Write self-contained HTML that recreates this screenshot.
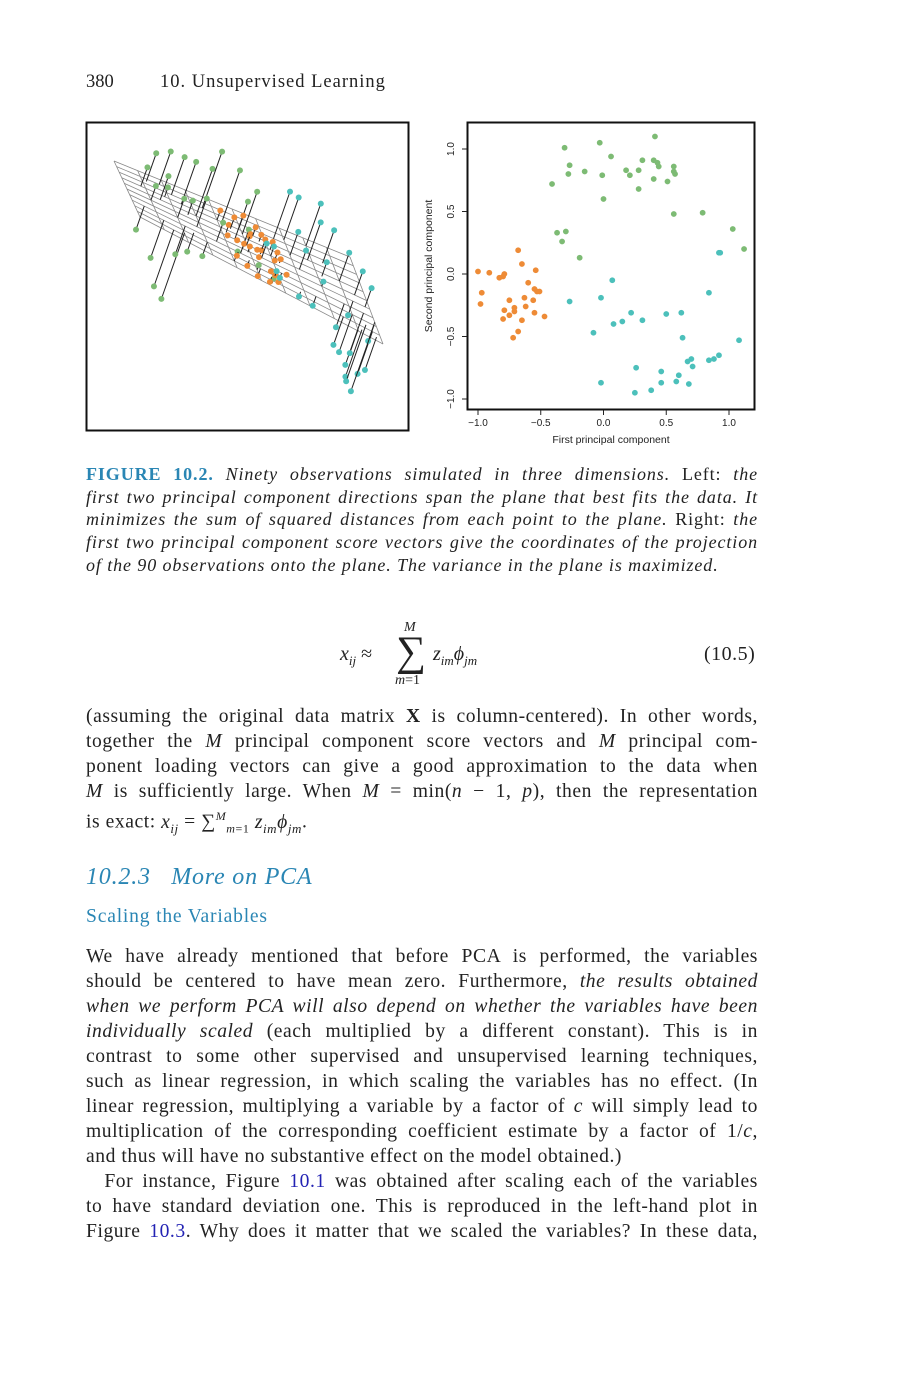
<!DOCTYPE html>
<html><head><meta charset="utf-8">
<style>
html,body{margin:0;padding:0;background:#fff;}
body{width:915px;height:1388px;position:relative;overflow:hidden;font-family:"Liberation Serif",serif;color:#222;}
.ln{position:absolute;left:86px;width:672px;font-size:19.6px;letter-spacing:0.55px;line-height:25px;white-space:nowrap;}
.j{text-align:justify;text-align-last:justify;}
.cap{position:absolute;left:86px;width:672px;font-size:18px;letter-spacing:0.9px;font-style:italic;line-height:22.7px;}
.cap div{white-space:nowrap;}
.up{font-style:normal;}
.blue{color:#2a86b4;}
.lk{color:#2323b4;}
</style></head><body>
<div style="position:absolute;left:86px;top:72px;font-size:18.5px;">380</div>
<div style="position:absolute;left:160px;top:72px;font-size:18.5px;letter-spacing:1px;">10. Unsupervised Learning</div>

<svg id="fig" width="915" height="460" style="position:absolute;left:0;top:0;" xmlns="http://www.w3.org/2000/svg">
<rect x="86.5" y="122.5" width="322" height="308" fill="none" stroke="#111" stroke-width="2"/>
<g id="left"></g>
<rect x="467.5" y="122.5" width="287" height="287" fill="none" stroke="#111" stroke-width="2"/>
<g id="right"></g>
<text x="611" y="443" font-family="Liberation Sans, sans-serif" font-size="10.5" text-anchor="middle" fill="#222">First principal component</text>
<text transform="translate(432,266) rotate(-90)" font-family="Liberation Sans, sans-serif" font-size="10.5" text-anchor="middle" fill="#222">Second principal component</text>
</svg>

<div class="cap" style="top:463px;">
<div class="j"><b class="up blue">FIGURE 10.2.</b> Ninety observations simulated in three dimensions. <span class="up">Left:</span> the</div>
<div class="j">first two principal component directions span the plane that best fits the data. It</div>
<div class="j">minimizes the sum of squared distances from each point to the plane. <span class="up">Right:</span> the</div>
<div class="j">first two principal component score vectors give the coordinates of the projection</div>
<div>of the 90 observations onto the plane. The variance in the plane is maximized.</div>
</div>

<div>
<div style="position:absolute;left:340px;top:643px;font-size:20px;font-style:italic;">x<sub style="font-size:13px">ij</sub> <span class="up">≈</span></div>
<div style="position:absolute;left:404px;top:620px;font-size:14px;font-style:italic;">M</div>
<div style="position:absolute;left:396px;top:627px;font-size:42px;line-height:50px;">∑</div>
<div style="position:absolute;left:395px;top:673px;font-size:14px;font-style:italic;">m<span class="up">=1</span></div>
<div style="position:absolute;left:433px;top:643px;font-size:20px;font-style:italic;">z<sub style="font-size:13px">im</sub>ϕ<sub style="font-size:13px">jm</sub></div>
<div style="position:absolute;left:704px;top:643px;font-size:20px;letter-spacing:0.5px;">(10.5)</div>
</div>

<div>
<div class="ln j" style="top:704px;">(assuming the original data matrix <b>X</b> is column-centered). In other words,</div>
<div class="ln j" style="top:729px;">together the <i>M</i> principal component score vectors and <i>M</i> principal com-</div>
<div class="ln j" style="top:754px;">ponent loading vectors can give a good approximation to the data when</div>
<div class="ln j" style="top:779px;"><i>M</i> is sufficiently large. When <i>M</i> = min(<i>n</i> − 1, <i>p</i>), then the representation</div>
<div class="ln" style="top:804px;">is exact: <i>x<sub style="font-size:13px">ij</sub></i> = ∑<sup style="font-size:12px"><i>M</i></sup><sub style="font-size:12px"><i>m</i>=1</sub> <i>z<sub style="font-size:13px">im</sub>ϕ<sub style="font-size:13px">jm</sub></i>.</div>
</div>

<div class="blue" style="position:absolute;left:86px;top:864px;font-size:24px;letter-spacing:0.8px;font-style:italic;">10.2.3&nbsp;&nbsp;&nbsp;More on PCA</div>
<div class="blue" style="position:absolute;left:86px;top:906px;font-size:19.6px;letter-spacing:0.8px;">Scaling the Variables</div>

<div>
<div class="ln j" style="top:944px;">We have already mentioned that before PCA is performed, the variables</div>
<div class="ln j" style="top:969px;">should be centered to have mean zero. Furthermore, <i>the results obtained</i></div>
<div class="ln j" style="top:994px;"><i>when we perform PCA will also depend on whether the variables have been</i></div>
<div class="ln j" style="top:1019px;"><i>individually scaled</i> (each multiplied by a different constant). This is in</div>
<div class="ln j" style="top:1044px;">contrast to some other supervised and unsupervised learning techniques,</div>
<div class="ln j" style="top:1069px;">such as linear regression, in which scaling the variables has no effect. (In</div>
<div class="ln j" style="top:1094px;">linear regression, multiplying a variable by a factor of <i>c</i> will simply lead to</div>
<div class="ln j" style="top:1119px;">multiplication of the corresponding coefficient estimate by a factor of 1/<i>c</i>,</div>
<div class="ln" style="top:1144px;">and thus will have no substantive effect on the model obtained.)</div>
<div class="ln j" style="top:1169px;">&nbsp;&nbsp;For instance, Figure <span class="lk">10.1</span> was obtained after scaling each of the variables</div>
<div class="ln j" style="top:1194px;">to have standard deviation one. This is reproduced in the left-hand plot in</div>
<div class="ln j" style="top:1219px;">Figure <span class="lk">10.3</span>. Why does it matter that we scaled the variables? In these data,</div>
</div>

<script>
// ---- Right panel data: PC scores ----
const greenPC1=[-0.31,-0.03,0.41,0.06,-0.27,-0.28,-0.15,-0.01,-0.41,0.00,0.18,0.21,0.28,0.31,0.40,0.43,0.44,0.40,0.28,0.51,0.56,0.56,0.57,0.56,0.79,1.03,1.12,-0.37,-0.30,-0.33,-0.19];
const greenPC2=[1.01,1.05,1.10,0.94,0.87,0.80,0.82,0.79,0.72,0.60,0.83,0.79,0.83,0.91,0.91,0.89,0.86,0.76,0.68,0.74,0.86,0.82,0.80,0.48,0.49,0.36,0.20,0.33,0.34,0.26,0.13];
const orangePC1=[-0.68,-1.00,-0.91,-0.83,-0.79,-0.80,-0.65,-0.54,-0.60,-0.97,-0.98,-0.75,-0.63,-0.55,-0.53,-0.51,-0.56,-0.62,-0.71,-0.71,-0.79,-0.75,-0.80,-0.65,-0.55,-0.47,-0.68,-0.72];
const orangePC2=[0.19,0.02,0.01,-0.03,0.00,-0.02,0.08,0.03,-0.07,-0.15,-0.24,-0.21,-0.19,-0.12,-0.14,-0.14,-0.21,-0.26,-0.27,-0.30,-0.29,-0.33,-0.36,-0.37,-0.31,-0.34,-0.46,-0.51];
const tealPC1=[0.07,-0.02,-0.27,-0.08,0.08,0.15,0.22,0.31,0.50,0.62,0.84,0.92,0.93,0.63,1.08,0.92,0.88,0.84,0.70,0.67,0.71,0.26,0.46,0.60,0.58,0.46,0.68,-0.02,0.25,0.38];
const tealPC2=[-0.05,-0.19,-0.22,-0.47,-0.40,-0.38,-0.31,-0.37,-0.32,-0.31,-0.15,0.17,0.17,-0.51,-0.53,-0.65,-0.68,-0.69,-0.68,-0.70,-0.74,-0.75,-0.78,-0.81,-0.86,-0.87,-0.88,-0.87,-0.95,-0.93];
const xTicks=[-1.0,-0.5,0.0,0.5,1.0];
const yTicks=[-1.0,-0.5,0.0,0.5,1.0];
const xTickLabels=["\u22121.0","\u22120.5","0.0","0.5","1.0"];
const yTickLabels=["\u22121.0","\u22120.5","0.0","0.5","1.0"];

// ---- Left panel data: position on fitted plane (a,b in [0,1]) and residual length ----
const greenA=[0.12,0.18,0.22,0.25,0.30,0.35,0.42,0.50,0.45,0.08,0.10,0.15,0.20,0.28,0.05,0.12,0.15,0.20,0.22,0.25,0.30,0.40,0.50,0.35,0.18,0.26,0.45,0.55];
const greenB=[0.15,0.10,0.20,0.30,0.40,0.20,0.30,0.35,0.50,0.30,0.50,0.40,0.60,0.60,0.70,0.80,0.90,0.85,0.70,0.75,0.80,0.90,0.85,0.70,0.30,0.45,0.70,0.95];
const greenR=[30,35,40,45,50,60,55,45,40,20,15,25,20,30,-25,-40,-60,-70,-30,-20,-15,10,5,20,10,15,25,5];
const orangeA=[0.40,0.42,0.45,0.47,0.50,0.52,0.55,0.57,0.60,0.62,0.65,0.44,0.48,0.53,0.58,0.61,0.50,0.55,0.46,0.52,0.56,0.59,0.63,0.41,0.49,0.54,0.57,0.60];
const orangeB=[0.30,0.45,0.35,0.60,0.50,0.40,0.55,0.45,0.60,0.50,0.65,0.70,0.75,0.65,0.70,0.40,0.25,0.30,0.50,0.80,0.85,0.75,0.55,0.55,0.62,0.52,0.35,0.80];
const orangeR=[10,8,12,5,9,6,4,10,3,6,-2,-4,-6,2,-3,8,12,9,0,-8,-5,-2,4,3,6,1,7,-4];
const tealA=[0.65,0.70,0.78,0.85,0.80,0.72,0.90,0.95,0.98,0.60,0.62,0.75,0.85,0.90,0.92,0.95,0.97,1.00,0.88,0.93,0.98,0.80,0.68,0.70,0.55,0.58,0.96,0.99,0.82,0.90];
const tealB=[0.20,0.15,0.30,0.25,0.10,0.50,0.40,0.50,0.60,0.50,0.70,0.80,0.90,0.80,0.95,0.85,0.90,0.75,0.70,0.60,0.95,0.60,0.85,0.35,0.60,0.80,0.70,0.80,0.45,0.98];
const tealR=[50,45,40,35,45,20,30,25,20,10,-5,-10,-30,-40,-50,-60,-45,-20,-25,-15,-35,5,-5,25,15,5,-55,-70,15,-25];

const NS="http://www.w3.org/2000/svg";
function mk(tag,attrs,parent){const e=document.createElementNS(NS,tag);for(const k in attrs)e.setAttribute(k,attrs[k]);parent.appendChild(e);return e;}
const GREEN="#7dbb74",ORANGE="#ee8b36",TEAL="#4cc0bb";

const xs=v=>478+(v+1)*125.5;
const ys=v=>274-v*125;
const R=document.getElementById('right');
xTicks.forEach((t,i)=>{
  const tk=mk('line',{x1:xs(t),x2:xs(t),y1:410,y2:415,stroke:'#222'},R);
  
  
  const lb=mk('text',{x:xs(t),y:426,'font-family':'Liberation Sans, sans-serif','font-size':'10',"text-anchor":'middle',fill:'#222'},R);
  lb.textContent=xTickLabels[i];
  
  
});
yTicks.forEach((t,i)=>{
  const tk=mk('line',{x1:462,x2:467,y1:ys(t),y2:ys(t),stroke:'#222'},R);
  
  
  const lb=mk('text',{transform:`translate(454,${ys(t)}) rotate(-90)`,'font-family':'Liberation Sans, sans-serif','font-size':'10',"text-anchor":'middle',fill:'#222'},R);
  lb.textContent=yTickLabels[i];
  
  
});
function scatter(xa,ya,col,name){
  xa.forEach((x,i)=>{
    const c=mk('circle',{cx:xs(x),cy:ys(ya[i]),r:2.9,fill:col},R);
    
    
  });
}
scatter(greenPC1,greenPC2,GREEN,'green-point');
scatter(orangePC1,orangePC2,ORANGE,'orange-point');
scatter(tealPC1,tealPC2,TEAL,'teal-point');

const L=document.getElementById('left');
const TL=[114,161],BL=[140,217],BR=[383,344],TR=[350,257];
function P(a,b){
  const x=(1-a)*(1-b)*TL[0]+a*(1-b)*TR[0]+a*b*BR[0]+(1-a)*b*BL[0];
  const y=(1-a)*(1-b)*TL[1]+a*(1-b)*TR[1]+a*b*BR[1]+(1-a)*b*BL[1];
  return [x,y];
}
for(let i=0;i<=10;i++){
  const b=i/10,p=P(0,b),q=P(1,b);
  const gl=mk('line',{x1:p[0],y1:p[1],x2:q[0],y2:q[1],stroke:'#888','stroke-width':0.8},L);
  
  
}
for(let i=0;i<=10;i++){
  const a=i/10,p=P(a,0),q=P(a,1);
  const gl=mk('line',{x1:p[0],y1:p[1],x2:q[0],y2:q[1],stroke:'#888','stroke-width':0.8},L);
  
  
}
function proj(A,B,Rr,col,name){
  A.forEach((a,i)=>{
    const f=P(a,B[i]);
    const d=[f[0]+Rr[i]*0.33,f[1]-Rr[i]*0.94];
    const l=mk('line',{x1:f[0],y1:f[1],x2:d[0],y2:d[1],stroke:'#222','stroke-width':1},L);
    
    
    const c=mk('circle',{cx:d[0],cy:d[1],r:3,fill:col},L);
    
    
  });
}
proj(greenA,greenB,greenR,GREEN,'green-observation');
proj(orangeA,orangeB,orangeR,ORANGE,'orange-observation');
proj(tealA,tealB,tealR,TEAL,'teal-observation');
</script>
</body></html>
